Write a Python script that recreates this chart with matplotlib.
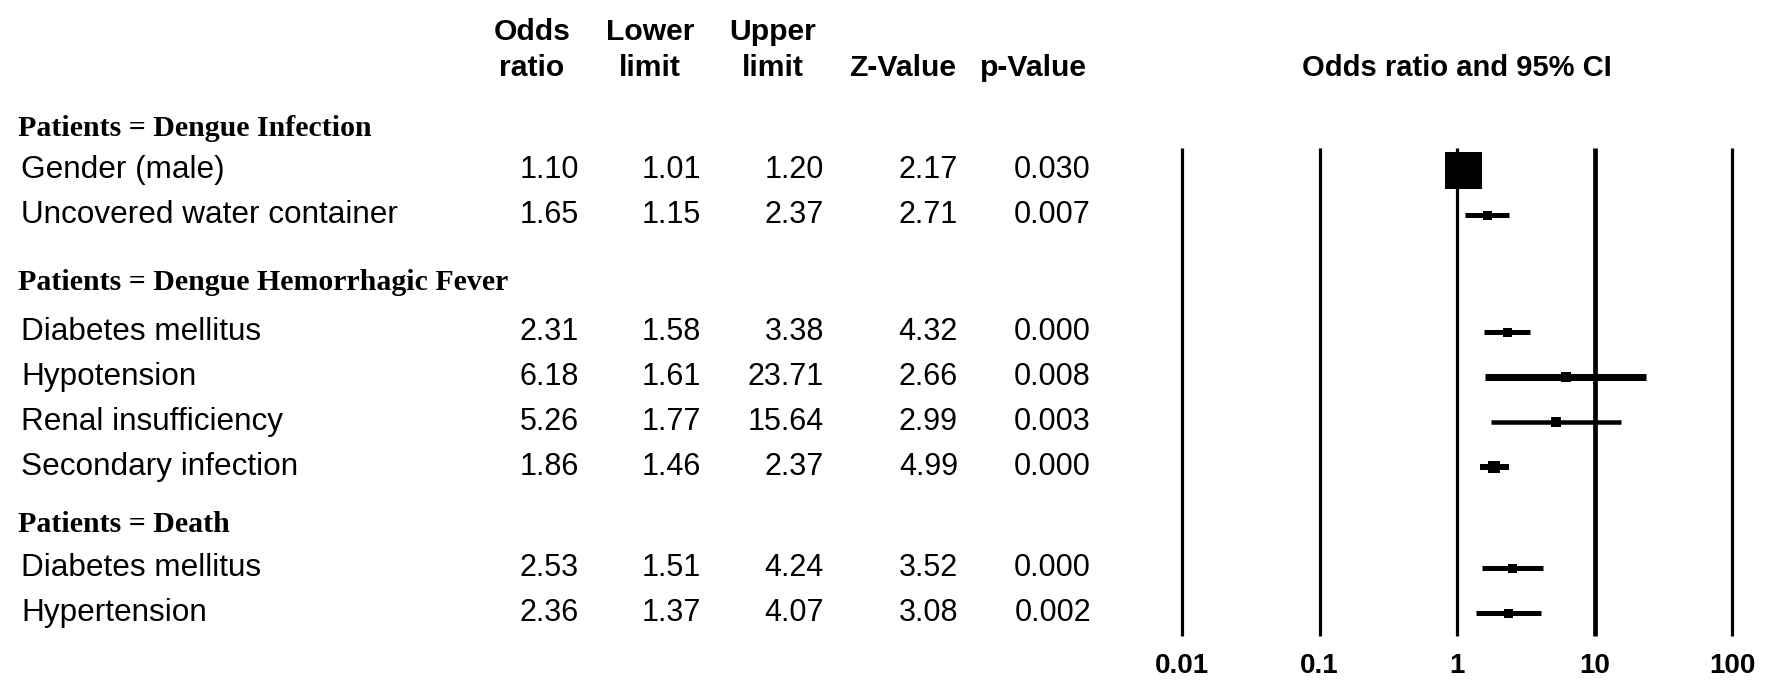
import matplotlib.pyplot as plt

# Data
groups = ['Patients = Dengue Infection',
          'Patients = Dengue Hemorrhagic Fever',
          'Patients = Death']
factors = ['Gender (male)', 'Uncovered water container',
           'Diabetes mellitus', 'Hypotension', 'Renal insufficiency',
           'Secondary infection', 'Diabetes mellitus', 'Hypertension']
odds_ratio = [1.10, 1.65, 2.31, 6.18, 5.26, 1.86, 2.53, 2.36]
lower_limit = [1.01, 1.15, 1.58, 1.61, 1.77, 1.46, 1.51, 1.37]
upper_limit = [1.20, 2.37, 3.38, 23.71, 15.64, 2.37, 4.24, 4.07]
z_value = [2.17, 2.71, 4.32, 2.66, 2.99, 4.99, 3.52, 3.08]
p_value = [0.030, 0.007, 0.000, 0.008, 0.003, 0.000, 0.000, 0.002]
x_ticks = [0.01, 0.1, 1, 10, 100]
x_tick_labels = ['0.01', '0.1', '1', '10', '100']

# Layout (pixel rows of the 1772x683 canvas)
W, H = 1772, 683
row_y = [170, 215, 332, 377, 422, 467, 568, 613]
group_y = [129, 283, 525]
box_px = [37, 9, 9, 10, 10, 12, 9, 9]
ci_px = [5, 5, 5, 7, 4.5, 6, 5, 5]
col_right = [579, 701, 824, 958, 1091]
head_center = [532, 650, 773, 903, 1033]
px = 0.72  # points per pixel at dpi 100

sans = 'Liberation Sans'
serif = 'Liberation Serif'

fig = plt.figure(figsize=(W / 100, H / 100), dpi=100)

# table part
tab = fig.add_axes([0, 0, 1, 1])
tab.set_xlim(0, W)
tab.set_ylim(H, 0)
tab.axis('off')

heads_top = ['Odds', 'Lower', 'Upper', '', '']
heads_bot = ['ratio', 'limit', 'limit', 'Z-Value', 'p-Value']
for xc, t1, t2 in zip(head_center, heads_top, heads_bot):
    if t1:
        tab.text(xc, 32, t1, ha='center', va='center', fontsize=21.7,
                 fontweight='bold', family=sans)
    tab.text(xc, 68, t2, ha='center', va='center', fontsize=21.7,
             fontweight='bold', family=sans)

for g, y in zip(groups, group_y):
    tab.text(18, y, g, ha='left', va='center', fontsize=21.5,
             fontweight='bold', family=serif)

for i, y in enumerate(row_y):
    tab.text(21, y, factors[i], ha='left', va='center', fontsize=22.7, family=sans)
    vals = [f'{odds_ratio[i]:.2f}', f'{lower_limit[i]:.2f}',
            f'{upper_limit[i]:.2f}', f'{z_value[i]:.2f}', f'{p_value[i]:.3f}']
    for xr, v in zip(col_right, vals):
        tab.text(xr, y, v, ha='right', va='center', fontsize=22, family=sans)

# forest part
x0, x1 = 1182, 1732
ax = fig.add_axes([x0 / W, 0, (x1 - x0) / W, 1])
ax.set_xscale('log')
ax.set_xlim(0.01, 100)
ax.set_ylim(H, 0)
ax.axis('off')

for t in x_ticks:
    lw = 3.4 if t == 10 else 2.3
    ax.vlines(t, 148, 636, color='black', lw=lw, clip_on=False)
for t, lab in zip(x_ticks, x_tick_labels):
    ax.text(t, 666, lab, ha='center', va='center', fontsize=20,
            fontweight='bold', family=sans, clip_on=False)

ax.text(1, 68, 'Odds ratio and 95% CI', ha='center', va='center',
        fontsize=21, fontweight='bold', family=sans)

for i, y in enumerate(row_y):
    ax.hlines(y, lower_limit[i], upper_limit[i], color='black',
              lw=ci_px[i] * px, capstyle='butt')
    ax.plot(odds_ratio[i], y, marker='s', color='black',
            markersize=box_px[i] * px, markeredgewidth=0)

fig.savefig('out.png', dpi=100)
